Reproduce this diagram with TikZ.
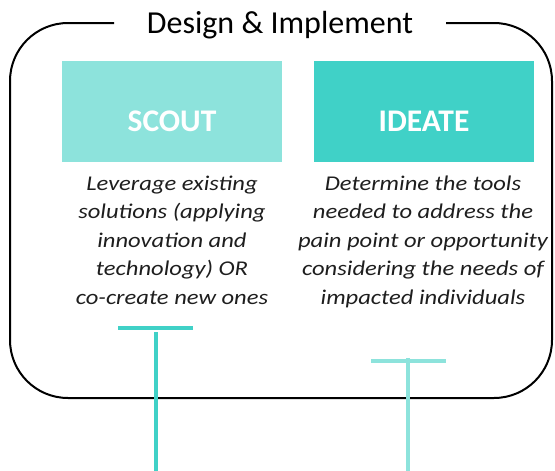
\documentclass[tikz,border=0pt]{standalone}
\usepackage{fontspec}
\setmainfont{Carlito}
\newfontfamily\descfont[FakeStretch=1.17]{Carlito}
\definecolor{tealL}{RGB}{141,227,220}
\definecolor{tealD}{RGB}{64,209,199}
\definecolor{ink}{RGB}{30,30,30}
\begin{document}
\begin{tikzpicture}[x=1pt,y=-1pt,
  frame/.style={draw=black,line width=2pt,rounded corners=58pt},
  stepbox/.style={inner sep=0pt,minimum width=220pt,minimum height=101pt,anchor=north west,draw=none},
  boxlabel/.style={text=white,font=\fontsize{31.5}{37}\selectfont\bfseries,anchor=base,inner sep=0pt},
  desc/.style={font=\descfont\fontsize{21}{28.5}\selectfont\itshape,align=center,text=ink,inner sep=0pt,anchor=base},
  titlestyle/.style={font=\fontsize{32}{37}\selectfont,anchor=base,inner sep=0pt},
  tbar/.style={line width=4pt}]
\useasboundingbox (0,0) rectangle (555,471);
% title and frame
\node[titlestyle] (ttl) at (280,33.6) {Design \& Implement};
\coordinate (gapR) at (446,23);
\coordinate (gapL) at (114,23);
\draw[frame] (gapR) -- (552,23) -- (552,398) -- (10,398) -- (10,23) -- (gapL);
% boxes
\node[stepbox,fill=tealL] (scout) at (62,61) {};
\node[stepbox,fill=tealD] (ideate) at (314,61) {};
\node[boxlabel] (scoutlbl) at (172,131) {SCOUT};
\node[boxlabel] (ideatelbl) at (424,131) {IDEATE};
% descriptions (base anchor = last line baseline)
\node[desc] (scoutdesc) at (172,304) {Leverage existing\\solutions (applying\\innovation and\\technology) OR\\co-create new ones};
\node[desc] (ideatedesc) at (423,304) {Determine the tools\\needed to address the\\pain point or opportunity\\considering the needs of\\impacted individuals};
% T markers
\coordinate (lbarL) at (118,328);
\coordinate (lbarR) at (193,328);
\coordinate (lstemT) at (156,332);
\coordinate (lstemB) at (156,471);
\coordinate (rbarL) at (371,361);
\coordinate (rbarR) at (446,361);
\coordinate (rstemT) at (408,358);
\coordinate (rstemB) at (408,471);
\draw[tbar,tealD] (lbarL) -- (lbarR);
\draw[tbar,tealD] (lstemT) -- (lstemB);
\draw[tbar,tealL] (rbarL) -- (rbarR);
\draw[tbar,tealL] (rstemT) -- (rstemB);
\end{tikzpicture}
\end{document}
